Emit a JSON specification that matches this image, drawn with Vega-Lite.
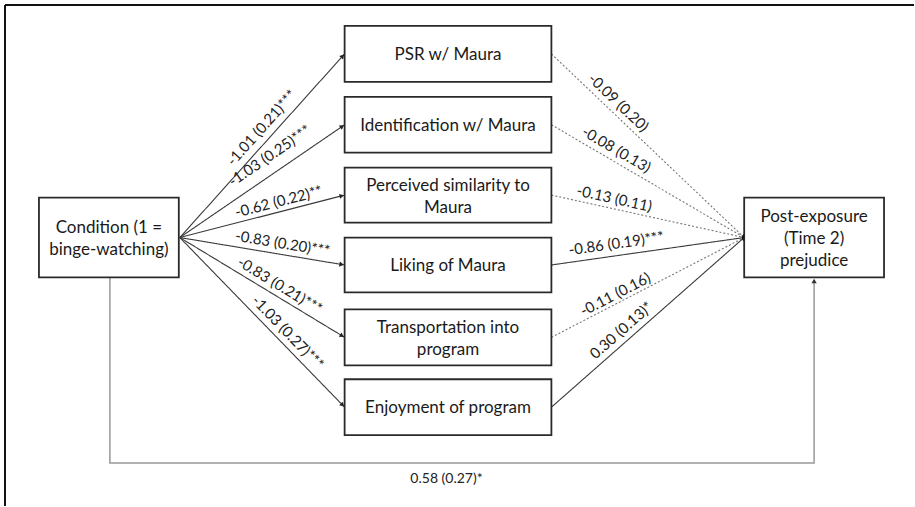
{
  "$schema": "https://vega.github.io/schema/vega-lite/v6.json",
  "width": 915,
  "height": 507,
  "padding": 0,
  "autosize": {"type": "fit", "contains": "padding"},
  "background": "white",
  "config": {"view": {"stroke": null}},
  "datasets": {
    "frame": [
      {"x1": 5, "y1": 5, "x2": 915, "y2": 5},
      {"x1": 5, "y1": 5, "x2": 5, "y2": 507}
    ],
    "boxes": [
      {"node": "Condition", "label": "Condition (1 =\nbinge-watching)", "x1": 39, "x2": 179, "y1": 198, "y2": 278, "cx": 109, "ty": 228},
      {"node": "PSR", "label": "PSR w/ Maura", "x1": 345, "x2": 552, "y1": 26, "y2": 82, "cx": 448.5, "ty": 55},
      {"node": "Identification", "label": "Identification w/ Maura", "x1": 345, "x2": 552, "y1": 97, "y2": 153, "cx": 448.5, "ty": 126},
      {"node": "Similarity", "label": "Perceived similarity to\nMaura", "x1": 345, "x2": 552, "y1": 168, "y2": 223, "cx": 448.5, "ty": 186},
      {"node": "Liking", "label": "Liking of Maura", "x1": 345, "x2": 552, "y1": 238, "y2": 293, "cx": 448.5, "ty": 267},
      {"node": "Transportation", "label": "Transportation into\nprogram", "x1": 345, "x2": 552, "y1": 310, "y2": 366, "cx": 448.5, "ty": 329},
      {"node": "Enjoyment", "label": "Enjoyment of program", "x1": 345, "x2": 552, "y1": 380, "y2": 436, "cx": 448.5, "ty": 409},
      {"node": "Prejudice", "label": "Post-exposure\n(Time 2)\nprejudice", "x1": 745, "x2": 885, "y1": 198, "y2": 278, "cx": 815, "ty": 217}
    ],
    "edges": [
      {"path": "a1", "x1": 180, "y1": 238, "x2": 345, "y2": 54, "label": "-1.01 (0.21)***", "sig": "sig", "angle": -48.1, "lx": 262, "ly": 128, "ax": 343, "ay": 56.2},
      {"path": "a2", "x1": 180, "y1": 238, "x2": 345, "y2": 125, "label": "-1.03 (0.25)***", "sig": "sig", "angle": -34.4, "lx": 270, "ly": 156, "ax": 342.5, "ay": 126.7},
      {"path": "a3", "x1": 180, "y1": 238, "x2": 345, "y2": 195.5, "label": "-0.62 (0.22)**", "sig": "sig", "angle": -14.4, "lx": 279, "ly": 202, "ax": 342.1, "ay": 196.2},
      {"path": "a4", "x1": 180, "y1": 238, "x2": 345, "y2": 265.5, "label": "-0.83 (0.20)***", "sig": "sig", "angle": 9.5, "lx": 283, "ly": 244, "ax": 342, "ay": 265},
      {"path": "a5", "x1": 180, "y1": 238, "x2": 345, "y2": 338, "label": "-0.83 (0.21)***", "sig": "sig", "angle": 31.2, "lx": 280, "ly": 286, "ax": 342.4, "ay": 336.4},
      {"path": "a6", "x1": 180, "y1": 238, "x2": 345, "y2": 408, "label": "-1.03 (0.27)***", "sig": "sig", "angle": 45.9, "lx": 288, "ly": 333, "ax": 342.9, "ay": 405.8},
      {"path": "b1", "x1": 552, "y1": 54, "x2": 745, "y2": 238, "label": "-0.09 (0.20)", "sig": "ns", "angle": 43.6, "lx": 619, "ly": 103},
      {"path": "b2", "x1": 552, "y1": 125, "x2": 745, "y2": 238, "label": "-0.08 (0.13)", "sig": "ns", "angle": 30.3, "lx": 617, "ly": 150},
      {"path": "b3", "x1": 552, "y1": 195.5, "x2": 745, "y2": 238, "label": "-0.13 (0.11)", "sig": "ns", "angle": 12.4, "lx": 615, "ly": 199},
      {"path": "b4", "x1": 552, "y1": 265.5, "x2": 745, "y2": 238, "label": "-0.86 (0.19)***", "sig": "sig", "angle": -8.1, "lx": 617, "ly": 244},
      {"path": "b5", "x1": 552, "y1": 338, "x2": 745, "y2": 238, "label": "-0.11 (0.16)", "sig": "ns", "angle": -27.4, "lx": 616, "ly": 295},
      {"path": "b6", "x1": 552, "y1": 408, "x2": 745, "y2": 238, "label": "0.30 (0.13)*", "sig": "sig", "angle": -41.4, "lx": 622, "ly": 331}
    ],
    "direct": [
      {"o": 1, "x": 110, "y": 278},
      {"o": 2, "x": 110, "y": 464},
      {"o": 3, "x": 815, "y": 464},
      {"o": 4, "x": 815, "y": 282}
    ],
    "directHead": [{"x": 815, "y": 281.5, "label": "0.58 (0.27)*", "lx": 447, "ly": 480}],
    "junction": [{"x": 745, "y": 238}]
  },
  "layer": [
    {
      "data": {"name": "frame"},
      "mark": {"type": "rule", "color": "#111", "strokeWidth": 2},
      "encoding": {
        "x": {"field": "x1", "type": "quantitative", "scale": {"domain": [0, 915], "nice": false, "zero": false}, "axis": null},
        "x2": {"field": "x2"},
        "y": {"field": "y1", "type": "quantitative", "scale": {"domain": [0, 507], "nice": false, "zero": false, "reverse": true}, "axis": null},
        "y2": {"field": "y2"}
      }
    },
    {
      "data": {"name": "direct"},
      "mark": {"type": "line", "color": "#999", "strokeWidth": 1.5},
      "encoding": {
        "x": {"field": "x", "type": "quantitative", "scale": {"domain": [0, 915], "nice": false, "zero": false}, "axis": null},
        "y": {"field": "y", "type": "quantitative", "scale": {"domain": [0, 507], "nice": false, "zero": false, "reverse": true}, "axis": null},
        "order": {"field": "o"}
      }
    },
    {
      "data": {"name": "directHead"},
      "mark": {"type": "point", "shape": "triangle-up", "filled": true, "color": "#333", "size": 28, "opacity": 1},
      "encoding": {
        "x": {"field": "x", "type": "quantitative", "scale": {"domain": [0, 915], "nice": false, "zero": false}, "axis": null},
        "y": {"field": "y", "type": "quantitative", "scale": {"domain": [0, 507], "nice": false, "zero": false, "reverse": true}, "axis": null}
      }
    },
    {
      "data": {"name": "directHead"},
      "mark": {"type": "text", "font": "Lato", "fontSize": 14, "color": "#222", "align": "center", "baseline": "middle"},
      "encoding": {
        "x": {"field": "lx", "type": "quantitative", "scale": {"domain": [0, 915], "nice": false, "zero": false}, "axis": null},
        "y": {"field": "ly", "type": "quantitative", "scale": {"domain": [0, 507], "nice": false, "zero": false, "reverse": true}, "axis": null},
        "text": {"field": "label"}
      }
    },
    {
      "data": {"name": "edges"},
      "mark": {"type": "rule", "strokeWidth": 1.1},
      "encoding": {
        "x": {"field": "x1", "type": "quantitative", "scale": {"domain": [0, 915], "nice": false, "zero": false}, "axis": null},
        "x2": {"field": "x2"},
        "y": {"field": "y1", "type": "quantitative", "scale": {"domain": [0, 507], "nice": false, "zero": false, "reverse": true}, "axis": null},
        "y2": {"field": "y2"},
        "strokeDash": {"field": "sig", "type": "nominal", "scale": {"domain": ["sig", "ns"], "range": [[1, 0], [2, 2]]}, "legend": null},
        "color": {"field": "sig", "type": "nominal", "scale": {"domain": ["sig", "ns"], "range": ["#3a3a3a", "#777777"]}, "legend": null}
      }
    },
    {
      "data": {"name": "edges"},
      "transform": [{"filter": "datum.ax != null"}],
      "mark": {"type": "point", "shape": "triangle-right", "filled": true, "color": "#222", "size": 26, "opacity": 1},
      "encoding": {
        "x": {"field": "ax", "type": "quantitative", "scale": {"domain": [0, 915], "nice": false, "zero": false}, "axis": null},
        "y": {"field": "ay", "type": "quantitative", "scale": {"domain": [0, 507], "nice": false, "zero": false, "reverse": true}, "axis": null},
        "angle": {"field": "angle", "type": "quantitative", "scale": null}
      }
    },
    {
      "data": {"name": "junction"},
      "mark": {"type": "point", "shape": "M0,-1A0.55,1 0 1,1 0,1A0.55,1 0 1,1 0,-1Z", "filled": true, "color": "#000", "size": 60, "opacity": 1},
      "encoding": {
        "x": {"field": "x", "type": "quantitative", "scale": {"domain": [0, 915], "nice": false, "zero": false}, "axis": null},
        "y": {"field": "y", "type": "quantitative", "scale": {"domain": [0, 507], "nice": false, "zero": false, "reverse": true}, "axis": null}
      }
    },
    {
      "data": {"name": "edges"},
      "mark": {"type": "text", "font": "Lato", "fontSize": 15, "color": "#222", "align": "center", "baseline": "middle"},
      "encoding": {
        "x": {"field": "lx", "type": "quantitative", "scale": {"domain": [0, 915], "nice": false, "zero": false}, "axis": null},
        "y": {"field": "ly", "type": "quantitative", "scale": {"domain": [0, 507], "nice": false, "zero": false, "reverse": true}, "axis": null},
        "angle": {"field": "angle", "type": "quantitative", "scale": null},
        "text": {"field": "label"}
      }
    },
    {
      "data": {"name": "boxes"},
      "mark": {"type": "rect", "fill": "white", "stroke": "#2a2a2a", "strokeWidth": 1.8},
      "encoding": {
        "x": {"field": "x1", "type": "quantitative", "scale": {"domain": [0, 915], "nice": false, "zero": false}, "axis": null},
        "x2": {"field": "x2"},
        "y": {"field": "y1", "type": "quantitative", "scale": {"domain": [0, 507], "nice": false, "zero": false, "reverse": true}, "axis": null},
        "y2": {"field": "y2"}
      }
    },
    {
      "data": {"name": "boxes"},
      "mark": {"type": "text", "font": "Lato", "fontSize": 17, "color": "#1a1a1a", "align": "center", "baseline": "middle", "lineBreak": "\n", "lineHeight": 22},
      "encoding": {
        "x": {"field": "cx", "type": "quantitative", "scale": {"domain": [0, 915], "nice": false, "zero": false}, "axis": null},
        "y": {"field": "ty", "type": "quantitative", "scale": {"domain": [0, 507], "nice": false, "zero": false, "reverse": true}, "axis": null},
        "text": {"field": "label"}
      }
    }
  ]
}
